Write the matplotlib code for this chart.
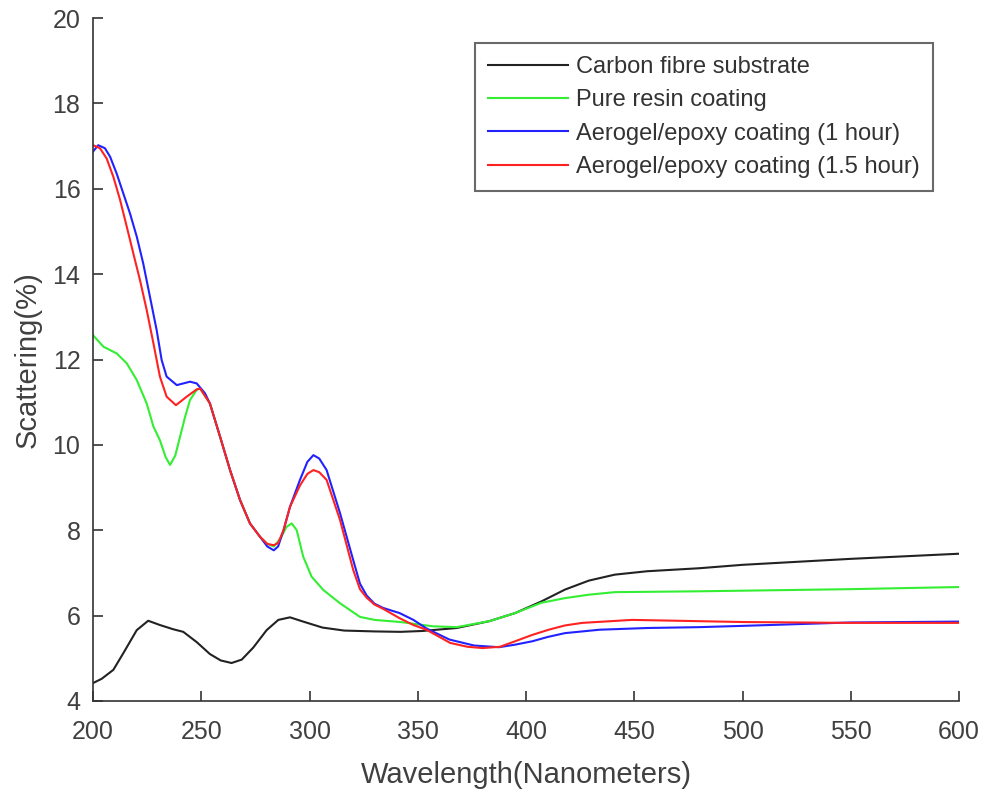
import matplotlib
matplotlib.use("Agg")
import matplotlib.pyplot as plt

plt.rcParams['font.family'] = ['Liberation Sans', 'DejaVu Sans']

# Carbon fibre substrate
x_carbon = [200, 204, 209.4, 214, 220.2, 225.5, 230.9, 237.1, 241.7, 247.9, 254, 259, 264, 268.7, 274,
            280.2, 285.6, 291, 297.1, 306, 316, 330, 342, 352, 368, 383, 395, 407, 418, 429, 441, 456,
            480, 500, 550, 600]
y_carbon = [4.42, 4.52, 4.73, 5.12, 5.66, 5.88, 5.78, 5.68, 5.62, 5.38, 5.10, 4.95, 4.89, 4.97, 5.25,
            5.66, 5.90, 5.96, 5.86, 5.72, 5.65, 5.63, 5.62, 5.64, 5.71, 5.87, 6.06, 6.33, 6.61, 6.82, 6.96, 7.04,
            7.11, 7.19, 7.33, 7.45]

# Pure resin coating
x_resin = [200, 204.8, 211, 215.6, 220.2, 224.8, 227.9, 230.9, 233.5, 235.6, 238, 240.2, 242.5, 244.8,
           247.9, 249.5, 254, 258.7, 263.3, 267.9, 272.5, 277.1, 280.5, 283.5, 286.5, 289.4, 291.8, 294.1,
           297.1, 301, 306.4, 314.1, 323.3, 330, 342, 357, 368, 383, 395, 407, 418, 429, 441, 480, 550, 600]
y_resin = [12.57, 12.30, 12.14, 11.91, 11.52, 10.97, 10.43, 10.11, 9.72, 9.53, 9.75, 10.19, 10.65, 11.05,
           11.29, 11.32, 10.97, 10.19, 9.41, 8.71, 8.16, 7.85, 7.68, 7.62, 7.80, 8.08, 8.16, 8.00,
           7.38, 6.91, 6.60, 6.29, 5.97, 5.90, 5.85, 5.75, 5.73, 5.87, 6.06, 6.30, 6.41, 6.49, 6.55, 6.57, 6.62, 6.67]

# Aerogel/epoxy coating (1 hour)
x_aero1 = [200, 202.4, 205.5, 207.9, 210.9, 214, 217.1, 220.2, 223.2, 226.3, 229.4, 231.7, 234, 238.7,
           244.8, 247.9, 251.7, 254, 258.7, 263.3, 267.9, 272.5, 277.1, 280.5, 283.5, 285.5, 288, 291,
           295.6, 299, 301.8, 304.5, 307.9, 314.1, 320.2, 323.3, 326.4, 330, 334, 341.6, 348, 354, 364.6,
           376, 387.5, 395, 403, 410, 418, 434, 456, 480, 500, 550, 600]
y_aero1 = [16.87, 17.02, 16.95, 16.75, 16.36, 15.89, 15.42, 14.88, 14.25, 13.47, 12.69, 11.99, 11.60, 11.40,
           11.48, 11.44, 11.21, 10.97, 10.19, 9.41, 8.71, 8.16, 7.85, 7.62, 7.53, 7.62, 8.00, 8.55,
           9.18, 9.60, 9.76, 9.68, 9.41, 8.40, 7.30, 6.75, 6.47, 6.28, 6.18, 6.06, 5.90, 5.70, 5.44,
           5.30, 5.26, 5.32, 5.40, 5.50, 5.59, 5.67, 5.71, 5.73, 5.76, 5.84, 5.86]

# Aerogel/epoxy coating (1.5 hour)
x_aero15 = [200, 203.2, 206.3, 209.4, 212.5, 215.6, 218.6, 221.7, 224.8, 227.9, 230.9, 234, 238.3, 243.3,
            247.9, 249.5, 254, 258.7, 263.3, 267.9, 272.5, 277.1, 280.5, 283.5, 285.5, 288, 291, 295.6,
            299, 301.8, 304.5, 307.9, 314.1, 320.2, 323.3, 326.4, 330, 334, 341.6, 348, 354, 365, 373,
            380, 388, 395, 403, 410.5, 418, 426, 449, 480, 500, 550, 600]
y_aero15 = [17.02, 16.95, 16.71, 16.28, 15.74, 15.11, 14.49, 13.86, 13.16, 12.38, 11.60, 11.13, 10.93, 11.13,
            11.30, 11.32, 10.97, 10.19, 9.41, 8.71, 8.16, 7.85, 7.68, 7.65, 7.70, 8.00, 8.55, 9.05,
            9.32, 9.41, 9.36, 9.18, 8.24, 7.07, 6.62, 6.42, 6.26, 6.16, 5.94, 5.78, 5.67, 5.36, 5.27,
            5.24, 5.27, 5.40, 5.55, 5.67, 5.77, 5.83, 5.90, 5.87, 5.85, 5.83, 5.83]

labels = ['Carbon fibre substrate', 'Pure resin coating',
          'Aerogel/epoxy coating (1 hour)', 'Aerogel/epoxy coating (1.5 hour)']
colors = ['#222222', '#33ee33', '#2222ff', '#ff2222']

x_ticks = [200, 250, 300, 350, 400, 450, 500, 550, 600]
y_ticks = [4, 6, 8, 10, 12, 14, 16, 18, 20]

fig = plt.figure(figsize=(9.87, 7.94), dpi=100)
ax = fig.add_axes([93/987, 1 - 701/794, (959 - 93)/987, (701 - 18)/794])

series = [(x_carbon, y_carbon), (x_resin, y_resin), (x_aero1, y_aero1), (x_aero15, y_aero15)]
for (xs, ys), lab, col in zip(series, labels, colors):
    ax.plot(xs, ys, color=col, lw=1.5, label=lab, solid_joinstyle='round')

ax.set_xlim(200, 600)
ax.set_ylim(4, 20)
ax.set_xticks(x_ticks)
ax.set_yticks(y_ticks)
ax.spines['top'].set_visible(False)
ax.spines['right'].set_visible(False)
for s in ('left', 'bottom'):
    ax.spines[s].set_color('#333333')
    ax.spines[s].set_linewidth(1.2)
ax.tick_params(direction='in', length=7, width=1.2, color='#333333',
               labelsize=18, labelcolor='#404040')
ax.tick_params(axis='x', pad=14)
ax.tick_params(axis='y', pad=9)

ax.set_xlabel('Wavelength(Nanometers)', fontsize=21, color='#404040', labelpad=12)
ax.set_ylabel('Scattering(%)', fontsize=21, color='#404040', labelpad=8)

leg = ax.legend(loc='upper right', bbox_to_anchor=(933/987, 1 - 43/794),
                bbox_transform=fig.transFigure, borderaxespad=0,
                fontsize=17, frameon=True, fancybox=False, handlelength=3.4,
                handletextpad=0.35, labelspacing=0.48, borderpad=0.55)
leg.get_frame().set_edgecolor('#444444')
leg.get_frame().set_linewidth(1.5)
for t in leg.get_texts():
    t.set_color('#333333')

fig.savefig('out.png', dpi=100)
